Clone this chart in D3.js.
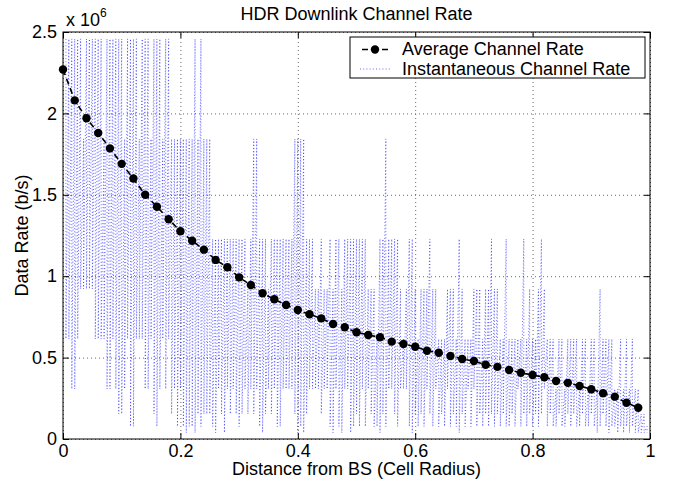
<!DOCTYPE html>
<html>
<head>
<meta charset="utf-8">
<script src="https://cdn.jsdelivr.net/npm/d3@7"></script>
<style>
  body { margin: 0; background: #fff; }
  text { font-family: "Liberation Sans", Arial, sans-serif; }
</style>
</head>
<body>
<div id="chart"></div>
<script>
const width = 675;
const height = 481;
const margin = { top: 32, right: 25, bottom: 42, left: 63 };

// discrete HDR downlink rates (b/s)
const rateLevels = [38400, 76800, 153600, 307200, 614400, 921600, 1228800, 1843200, 2457600];

// average channel rate vs distance
const avgDist = [0, 0.02, 0.04, 0.06, 0.08, 0.1, 0.12, 0.14, 0.16, 0.18,
  0.2, 0.22, 0.24, 0.26, 0.28, 0.3, 0.32, 0.34, 0.36, 0.38,
  0.4, 0.42, 0.44, 0.46, 0.48, 0.5, 0.52, 0.54, 0.56, 0.58,
  0.6, 0.62, 0.64, 0.66, 0.68, 0.7, 0.72, 0.74, 0.76, 0.78,
  0.8, 0.82, 0.84, 0.86, 0.88, 0.9, 0.92, 0.94, 0.96, 0.98];
const avgRate = [2270000, 2080000, 1970000, 1880000, 1785000, 1690000, 1600000, 1500000, 1427000, 1350000,
  1276000, 1218000, 1163000, 1100000, 1055000, 993000, 946000, 895000, 858000, 823000,
  792000, 766000, 741000, 706000, 686000, 656000, 639000, 625000, 598000, 584000,
  567000, 542000, 530000, 510000, 491000, 479000, 456000, 443000, 424000, 407000,
  393000, 379000, 356000, 345000, 326000, 306000, 281000, 260000, 223000, 192000];

// instantaneous rate: distance of each sample column, highest / lowest rate level seen there
const instDist = [0.005, 0.01, 0.015, 0.02, 0.025, 0.03, 0.035, 0.04, 0.045, 0.05,
  0.055, 0.06, 0.065, 0.07, 0.075, 0.08, 0.085, 0.09, 0.095, 0.1,
  0.105, 0.11, 0.115, 0.12, 0.125, 0.13, 0.135, 0.14, 0.145, 0.15,
  0.155, 0.16, 0.165, 0.17, 0.175, 0.18, 0.185, 0.19, 0.195, 0.2,
  0.205, 0.21, 0.215, 0.22, 0.225, 0.23, 0.235, 0.24, 0.245, 0.25,
  0.255, 0.26, 0.265, 0.27, 0.275, 0.28, 0.285, 0.29, 0.295, 0.3,
  0.305, 0.31, 0.315, 0.32, 0.325, 0.33, 0.335, 0.34, 0.345, 0.35,
  0.355, 0.36, 0.365, 0.37, 0.375, 0.38, 0.385, 0.39, 0.395, 0.4,
  0.405, 0.41, 0.415, 0.42, 0.425, 0.43, 0.435, 0.44, 0.445, 0.45,
  0.455, 0.46, 0.465, 0.47, 0.475, 0.48, 0.485, 0.49, 0.495, 0.5,
  0.505, 0.51, 0.515, 0.52, 0.525, 0.53, 0.535, 0.54, 0.545, 0.55,
  0.555, 0.56, 0.565, 0.57, 0.575, 0.58, 0.585, 0.59, 0.595, 0.6,
  0.605, 0.61, 0.615, 0.62, 0.625, 0.63, 0.635, 0.64, 0.645, 0.65,
  0.655, 0.66, 0.665, 0.67, 0.675, 0.68, 0.685, 0.69, 0.695, 0.7,
  0.705, 0.71, 0.715, 0.72, 0.725, 0.73, 0.735, 0.74, 0.745, 0.75,
  0.755, 0.76, 0.765, 0.77, 0.775, 0.78, 0.785, 0.79, 0.795, 0.8,
  0.805, 0.81, 0.815, 0.82, 0.825, 0.83, 0.835, 0.84, 0.845, 0.85,
  0.855, 0.86, 0.865, 0.87, 0.875, 0.88, 0.885, 0.89, 0.895, 0.9,
  0.905, 0.91, 0.915, 0.92, 0.925, 0.93, 0.935, 0.94, 0.945, 0.95,
  0.955, 0.96, 0.965, 0.97, 0.975, 0.98, 0.985, 0.99, 0.995];
const instHi = [8, 8, 8, 8, 8, 8, 7, 8, 8, 8, 8, 8, 8, 7, 8, 8, 8, 8, 8, 8,
  7, 8, 8, 8, 8, 7, 8, 8, 8, 7, 8, 8, 8, 7, 8, 8, 7, 7, 7, 7,
  7, 7, 7, 7, 8, 7, 8, 7, 7, 7, 6, 6, 6, 6, 6, 6, 6, 6, 6, 6,
  6, 6, 5, 6, 7, 7, 6, 6, 6, 5, 6, 6, 6, 6, 6, 6, 6, 6, 7, 7,
  7, 7, 6, 6, 6, 5, 5, 6, 5, 5, 6, 5, 6, 6, 5, 6, 6, 6, 6, 6,
  6, 6, 6, 5, 5, 5, 4, 6, 6, 7, 6, 6, 6, 6, 5, 4, 5, 6, 6, 5,
  4, 5, 5, 5, 6, 5, 5, 4, 4, 4, 5, 5, 5, 4, 6, 5, 4, 4, 4, 5,
  5, 5, 4, 5, 5, 6, 5, 5, 4, 4, 6, 4, 4, 4, 4, 4, 6, 4, 5, 4,
  4, 5, 6, 5, 4, 4, 4, 3, 4, 4, 3, 4, 4, 4, 4, 3, 4, 4, 3, 4,
  4, 3, 5, 4, 4, 4, 4, 3, 3, 4, 3, 4, 3, 4, 3, 3, 2, 2, 1];
const instLo = [4, 4, 3, 3, 4, 5, 5, 5, 5, 5, 4, 4, 4, 4, 3, 3, 4, 3, 2, 2,
  3, 4, 1, 1, 4, 4, 4, 3, 3, 4, 2, 1, 3, 4, 3, 4, 2, 3, 1, 3,
  1, 0, 1, 1, 0, 2, 1, 2, 2, 2, 1, 0, 3, 2, 0, 3, 2, 3, 2, 1,
  2, 3, 2, 3, 2, 3, 1, 0, 2, 3, 2, 3, 1, 1, 3, 3, 3, 3, 2, 0,
  1, 0, 2, 3, 3, 3, 3, 2, 3, 3, 1, 0, 3, 1, 0, 3, 3, 0, 1, 2,
  1, 3, 1, 3, 2, 1, 1, 0, 2, 1, 3, 3, 2, 1, 3, 3, 3, 1, 0, 2,
  1, 2, 1, 3, 2, 1, 3, 1, 2, 1, 3, 1, 2, 1, 0, 2, 1, 3, 1, 3,
  1, 2, 1, 2, 1, 2, 1, 2, 1, 2, 1, 1, 2, 1, 3, 1, 2, 1, 2, 1,
  2, 1, 2, 3, 1, 2, 1, 1, 2, 1, 1, 2, 1, 2, 1, 1, 2, 1, 1, 2,
  1, 0, 1, 2, 1, 0, 1, 1, 0, 1, 0, 1, 0, 1, 0, 0, 0, 0, 0];

const xTicks = [0, 0.2, 0.4, 0.6, 0.8, 1];
const yTicks = [0, 500000, 1000000, 1500000, 2000000, 2500000];
const yTickLabels = ["0", "0.5", "1", "1.5", "2", "2.5"];

const svg = d3.select("#chart").append("svg")
  .attr("width", width)
  .attr("height", height)
  .style("font-size", "18px");

const x = d3.scaleLinear().domain([0, 1]).range([margin.left, width - margin.right]);
const y = d3.scaleLinear().domain([0, 2500000]).range([height - margin.bottom, margin.top]);

const plotW = width - margin.left - margin.right;
const plotH = height - margin.top - margin.bottom;

// grid
svg.append("g")
  .attr("transform", `translate(0,${height - margin.bottom})`)
  .call(d3.axisBottom(x).tickValues(xTicks).tickSize(-plotH).tickFormat(""))
  .call(g => g.select(".domain").remove())
  .selectAll("line").attr("stroke", "#444").attr("stroke-width", 0.8).attr("stroke-dasharray", "1,3");
svg.append("g")
  .attr("transform", `translate(${margin.left},0)`)
  .call(d3.axisLeft(y).tickValues(yTicks).tickSize(-plotW).tickFormat(""))
  .call(g => g.select(".domain").remove())
  .selectAll("line").attr("stroke", "#444").attr("stroke-width", 0.8).attr("stroke-dasharray", "1,3");

// instantaneous rate (dotted)
const instPts = [];
instDist.forEach((d, i) => {
  instPts.push([d, rateLevels[instHi[i]]]);
  instPts.push([d, rateLevels[instLo[i]]]);
});
const line = d3.line().x(d => x(d[0])).y(d => y(d[1]));
svg.append("path")
  .datum(instPts)
  .attr("d", line)
  .attr("fill", "none")
  .attr("stroke", "#0000ff")
  .attr("stroke-opacity", 0.85)
  .attr("stroke-width", 0.7)
  .attr("stroke-dasharray", "1,2.2");

// average rate
const avgPts = avgDist.map((d, i) => [d, avgRate[i]]);
svg.append("path")
  .datum(avgPts)
  .attr("d", line)
  .attr("fill", "none")
  .attr("stroke", "#000")
  .attr("stroke-width", 1.6)
  .attr("stroke-dasharray", "6,4");
svg.append("g").selectAll("circle")
  .data(avgPts)
  .join("circle")
  .attr("cx", d => x(d[0]))
  .attr("cy", d => y(d[1]))
  .attr("r", 4.2)
  .attr("fill", "#000");

// axes (ticks inward, box)
const styleAxis = g => {
  g.select(".domain").remove();
  g.selectAll("line").attr("stroke", "#000");
  g.selectAll("text").attr("fill", "#000").style("font-size", "18px");
};
svg.append("g")
  .attr("transform", `translate(0,${height - margin.bottom})`)
  .call(d3.axisBottom(x).tickValues(xTicks).tickSizeInner(-6).tickSizeOuter(0).tickPadding(5)
    .tickFormat(d3.format("")))
  .call(styleAxis);
svg.append("g")
  .attr("transform", `translate(0,${margin.top})`)
  .call(d3.axisTop(x).tickValues(xTicks).tickSizeInner(-6).tickSizeOuter(0).tickFormat(""))
  .call(styleAxis);
svg.append("g")
  .attr("transform", `translate(${margin.left},0)`)
  .call(d3.axisLeft(y).tickValues(yTicks).tickSizeInner(-6).tickSizeOuter(0).tickPadding(6)
    .tickFormat((d, i) => yTickLabels[i]))
  .call(styleAxis);
svg.append("g")
  .attr("transform", `translate(${width - margin.right},0)`)
  .call(d3.axisRight(y).tickValues(yTicks).tickSizeInner(-6).tickSizeOuter(0).tickFormat(""))
  .call(styleAxis);

svg.append("rect")
  .attr("x", margin.left).attr("y", margin.top)
  .attr("width", plotW).attr("height", plotH)
  .attr("fill", "none").attr("stroke", "#000").attr("stroke-width", 1);

// exponent
const expo = svg.append("text").attr("x", 66).attr("y", 26);
expo.append("tspan").text("x 10");
expo.append("tspan").attr("dy", -9).style("font-size", "12px").text("6");

// title and labels
svg.append("text")
  .attr("x", x(0.5)).attr("y", 20)
  .attr("text-anchor", "middle")
  .text("HDR Downlink Channel Rate");
svg.append("text")
  .attr("x", x(0.5)).attr("y", 475)
  .attr("text-anchor", "middle")
  .text("Distance from BS (Cell Radius)");
svg.append("text")
  .attr("transform", `translate(28,${y(1250000)}) rotate(-90)`)
  .attr("text-anchor", "middle")
  .text("Data Rate (b/s)");

// legend
const leg = svg.append("g");
leg.append("rect")
  .attr("x", 350).attr("y", 37).attr("width", 295).attr("height", 41)
  .attr("fill", "#fff").attr("stroke", "#000").attr("stroke-width", 1);
leg.append("line")
  .attr("x1", 360).attr("x2", 390).attr("y1", 49.5).attr("y2", 49.5)
  .attr("stroke", "#000").attr("stroke-width", 1.6).attr("stroke-dasharray", "6,4").attr("stroke-dashoffset", -2);
leg.append("circle").attr("cx", 375).attr("cy", 49.5).attr("r", 4.2).attr("fill", "#000");
leg.append("text").attr("x", 402).attr("y", 55).text("Average Channel Rate");
leg.append("line")
  .attr("x1", 360).attr("x2", 390).attr("y1", 69).attr("y2", 69)
  .attr("stroke", "#0000ff").attr("stroke-opacity", 0.85).attr("stroke-width", 0.7).attr("stroke-dasharray", "1,2.2");
leg.append("text").attr("x", 402).attr("y", 74.5).text("Instantaneous Channel Rate");
</script>
</body>
</html>
